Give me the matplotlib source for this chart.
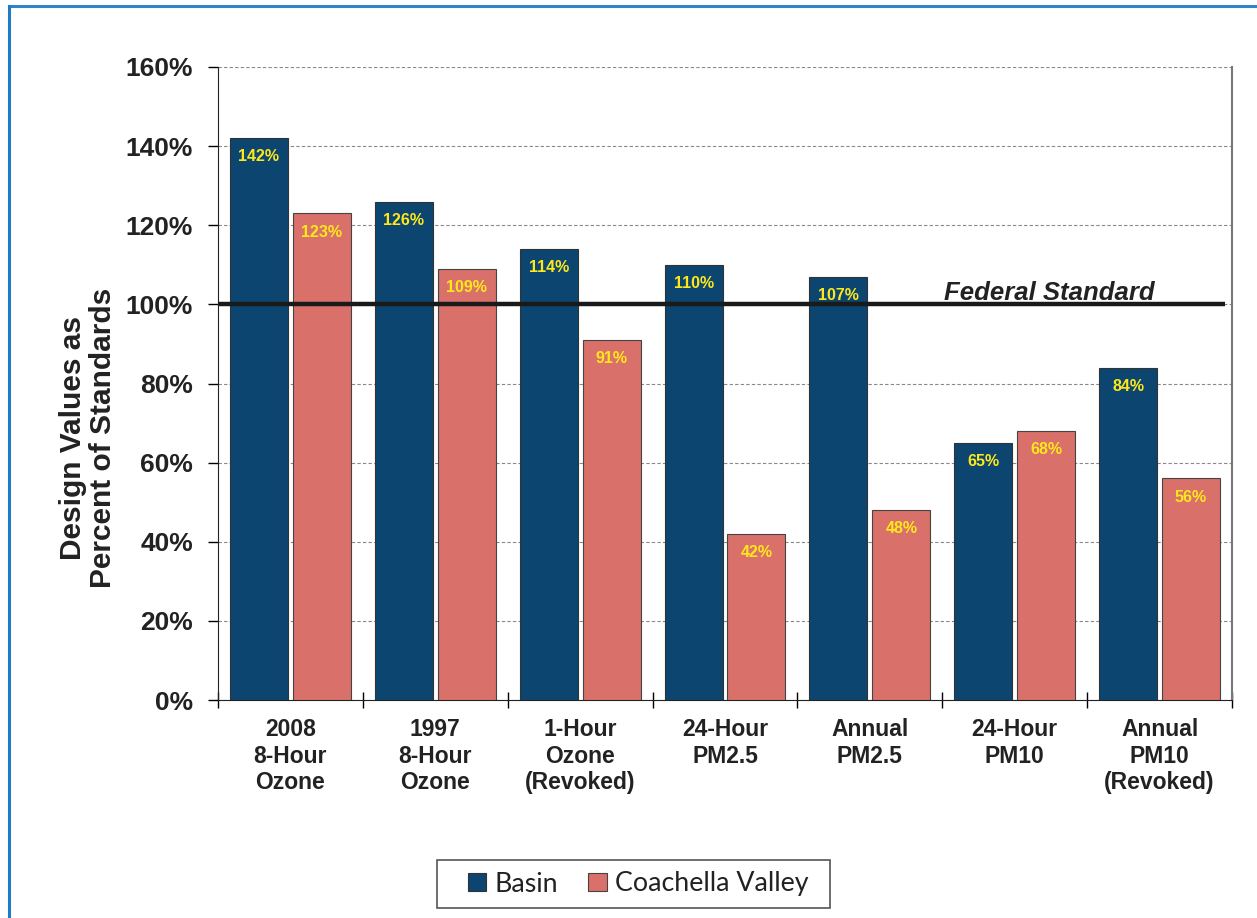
import matplotlib
matplotlib.use("Agg")
import matplotlib.pyplot as plt
from matplotlib.lines import Line2D
from matplotlib.patches import Rectangle
import numpy as np

categories = ["2008\n8-Hour\nOzone", "1997\n8-Hour\nOzone", "1-Hour\nOzone\n(Revoked)",
              "24-Hour\nPM2.5", "Annual\nPM2.5", "24-Hour\nPM10", "Annual\nPM10\n(Revoked)"]
basin = [142, 126, 114, 110, 107, 65, 84]
coachella = [123, 109, 91, 42, 48, 68, 56]
yticks = [0, 20, 40, 60, 80, 100, 120, 140, 160]
standard = 100

blue = "#0b4570"
pink = "#d9706a"
yellow = "#ffe81a"

plt.rcParams['font.family'] = ['Liberation Sans', 'DejaVu Sans']

fig = plt.figure(figsize=(12.57, 9.18), dpi=100)
ax = fig.add_axes([218/1257, 1 - 700/918, (1232-218)/1257, (700-67)/918])

x = np.arange(len(categories))
w = 0.4
b1 = ax.bar(x - 0.217, basin, w, color=blue, edgecolor="#333333", linewidth=0.8, label="Basin", zorder=3)
b2 = ax.bar(x + 0.217, coachella, w, color=pink, edgecolor="#444444", linewidth=0.8, label="Coachella Valley", zorder=3)

for bars, vals in [(b1, basin), (b2, coachella)]:
    for r, v in zip(bars, vals):
        ax.annotate(f"{v}%", (r.get_x() + r.get_width()/2, v), xytext=(0, -13.5),
                    textcoords="offset points", ha="center", va="center",
                    color=yellow, fontsize=11.5, fontweight="bold", zorder=5)

# federal standard line
ax.plot([-0.5, 6.45], [standard, standard], color="#1a1a1a", lw=3.2, zorder=4, solid_capstyle="butt")
ax.text(5.24, standard + 3.0, "Federal Standard", ha="center", va="center",
        fontsize=18.5, fontweight="bold", fontstyle="italic", color="#222222", zorder=5)

ax.set_xlim(-0.5, 6.5)
ax.set_ylim(0, 160)
ax.set_yticks(yticks)
ax.set_yticklabels([f"{t}%" for t in yticks], fontsize=19, fontweight="bold", color="#222222")
ax.set_xticks(x)
ax.set_xticklabels(categories, fontsize=16.5, fontweight="bold", color="#222222", linespacing=1.2)
ax.set_xticks(np.arange(-0.5, 7, 1), minor=True)
ax.tick_params(axis="x", which="major", length=0, pad=13)
ax.tick_params(axis="x", which="minor", length=12, direction="inout", width=1)
ax.tick_params(axis="y", length=7, width=1, pad=11)

ax.yaxis.grid(True, linestyle=(0, (3, 2)), color="#888888", linewidth=0.8, zorder=0)
ax.set_axisbelow(True)
ax.spines["top"].set_visible(False)
ax.spines["right"].set_color("#777777")
ax.spines["right"].set_linewidth(1.5)
ax.spines["left"].set_color("#222222")
ax.spines["bottom"].set_color("#222222")

ax.set_ylabel("Design Values as\nPercent of Standards", fontsize=21.5, fontweight="bold",
              color="#222222", linespacing=1.1)
ax.yaxis.set_label_coords(-0.0995, 0.414)

# legend, with its box drawn separately
fig.add_artist(Rectangle((437/1257, 1 - 908/918), (830-437)/1257, 48/918,
                         transform=fig.transFigure, facecolor="white", edgecolor="#555555", lw=1.2))
fig.legend(handles=[b1, b2], loc="center", bbox_to_anchor=(638/1257, 1 - 884/918), ncol=2,
           frameon=False, prop={"family": "Lato", "size": 19.3}, handlelength=0.68, handleheight=0.68,
           handletextpad=0.3, columnspacing=1.15, borderpad=0.2, labelcolor="#222222")

# blue page border
fig.add_artist(Line2D([8.5/1257, 1], [1 - 6/918, 1 - 6/918], color="#2e86c8", lw=2.2))
fig.add_artist(Line2D([8.5/1257, 8.5/1257], [0, 1 - 6/918], color="#1f7bc4", lw=2.2))

fig.savefig("out.png", dpi=100)
